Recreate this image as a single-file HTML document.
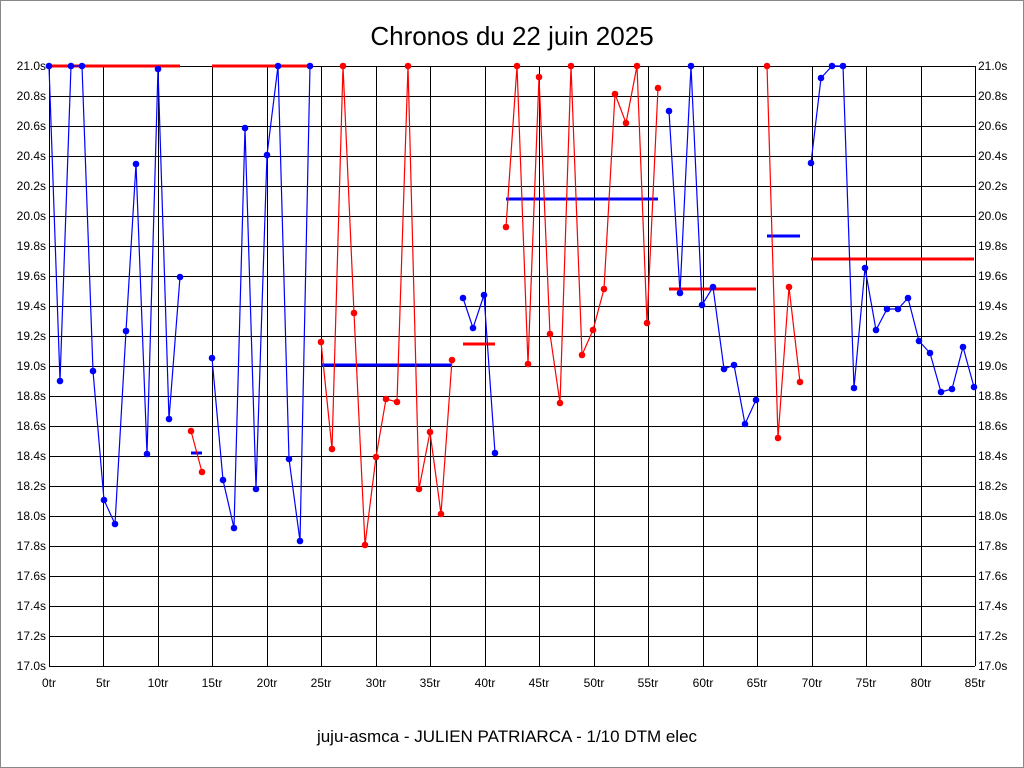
<!DOCTYPE html>
<html><head><meta charset="utf-8"><style>body{margin:0;background:#fff}svg{display:block}</style></head><body>
<svg width="1024" height="768" xmlns="http://www.w3.org/2000/svg" font-family="Liberation Sans, sans-serif">
<rect x="0.5" y="0.5" width="1023" height="767" fill="#fff" stroke="#888"/>
<text x="512" y="45" font-size="26" text-anchor="middle">Chronos du 22 juin 2025</text>
<text x="507" y="742" font-size="17" text-anchor="middle">juju-asmca - JULIEN PATRIARCA - 1/10 DTM elec</text>
<g id="grid" stroke="#000" stroke-width="1"></g>
<g id="labs" font-size="12"></g>
<g id="data"></g>
<script>
var ns="http://www.w3.org/2000/svg";
function el(p,t,a,txt){var e=document.createElementNS(ns,t);for(var k in a)e.setAttribute(k,a[k]);if(txt)e.textContent=txt;p.appendChild(e);return e;}
var g=document.getElementById('grid'),L=document.getElementById('labs'),D=document.getElementById('data');
for(var i=0;i<=20;i++){var y=66+i*30;el(g,'line',{x1:49,x2:975,y1:y+.5,y2:y+.5});
var v=(21-i*0.2).toFixed(1)+'s';el(L,'text',{x:46,y:y+4,'text-anchor':'end'},v);el(L,'text',{x:978,y:y+4},v);}
for(var k=0;k<=17;k++){var x=Math.round(49+k*926/17);el(g,'line',{x1:x+.5,x2:x+.5,y1:66,y2:666});
el(L,'text',{x:x,y:687,'text-anchor':'middle'},(k*5)+'tr');}
el(g,'line',{x1:975.5,x2:975.5,y1:66,y2:666});
function hl(c,x1,x2,y){el(D,'line',{x1:x1,x2:x2,y1:y,y2:y,stroke:c,'stroke-width':3});}
function ser(c,pts){el(D,'polyline',{points:pts.map(function(p){return p.join(',')}).join(' '),fill:'none',stroke:c,'stroke-width':1.2});
pts.forEach(function(p){el(D,'circle',{cx:p[0],cy:p[1],r:3.3,fill:c});});}
var B='#0000ff',R='#ff0000';
hl(R,49,180,66);hl(R,212,310,66);
hl(B,191,202,453);hl(B,321,452,365);hl(R,463,495,344);hl(B,506,658,199);hl(R,669,756,289);hl(B,767,800,236);hl(R,811,974,259);
ser(B,[[49,66],[60,381],[71,66],[82,66],[93,371],[104,500],[115,524],[126,331],[136,164],[147,454],[158,69],[169,419],[180,277]]);
ser(R,[[191,431],[202,472]]);
ser(B,[[212,358],[223,480],[234,528],[245,128],[256,489],[267,155],[278,66],[289,459],[300,541],[310,66]]);
ser(R,[[321,342],[332,449],[343,66],[354,313],[365,545],[376,457],[386,399],[397,402],[408,66],[419,489],[430,432],[441,514],[452,360]]);
ser(B,[[463,298],[473,328],[484,295],[495,453]]);
ser(R,[[506,227],[517,66],[528,364],[539,77],[550,334],[560,403],[571,66],[582,355],[593,330],[604,289],[615,94],[626,123],[637,66],[647,323],[658,88]]);
ser(B,[[669,111],[680,293],[691,66],[702,305],[713,287],[724,369],[734,365],[745,424],[756,400]]);
ser(R,[[767,66],[778,438],[789,287],[800,382]]);
ser(B,[[811,163],[821,78],[832,66],[843,66],[854,388],[865,268],[876,330],[887,309],[898,309],[908,298],[919,341],[930,353],[941,392],[952,389],[963,347],[974,387]]);
</script>
</svg>
</body></html>
